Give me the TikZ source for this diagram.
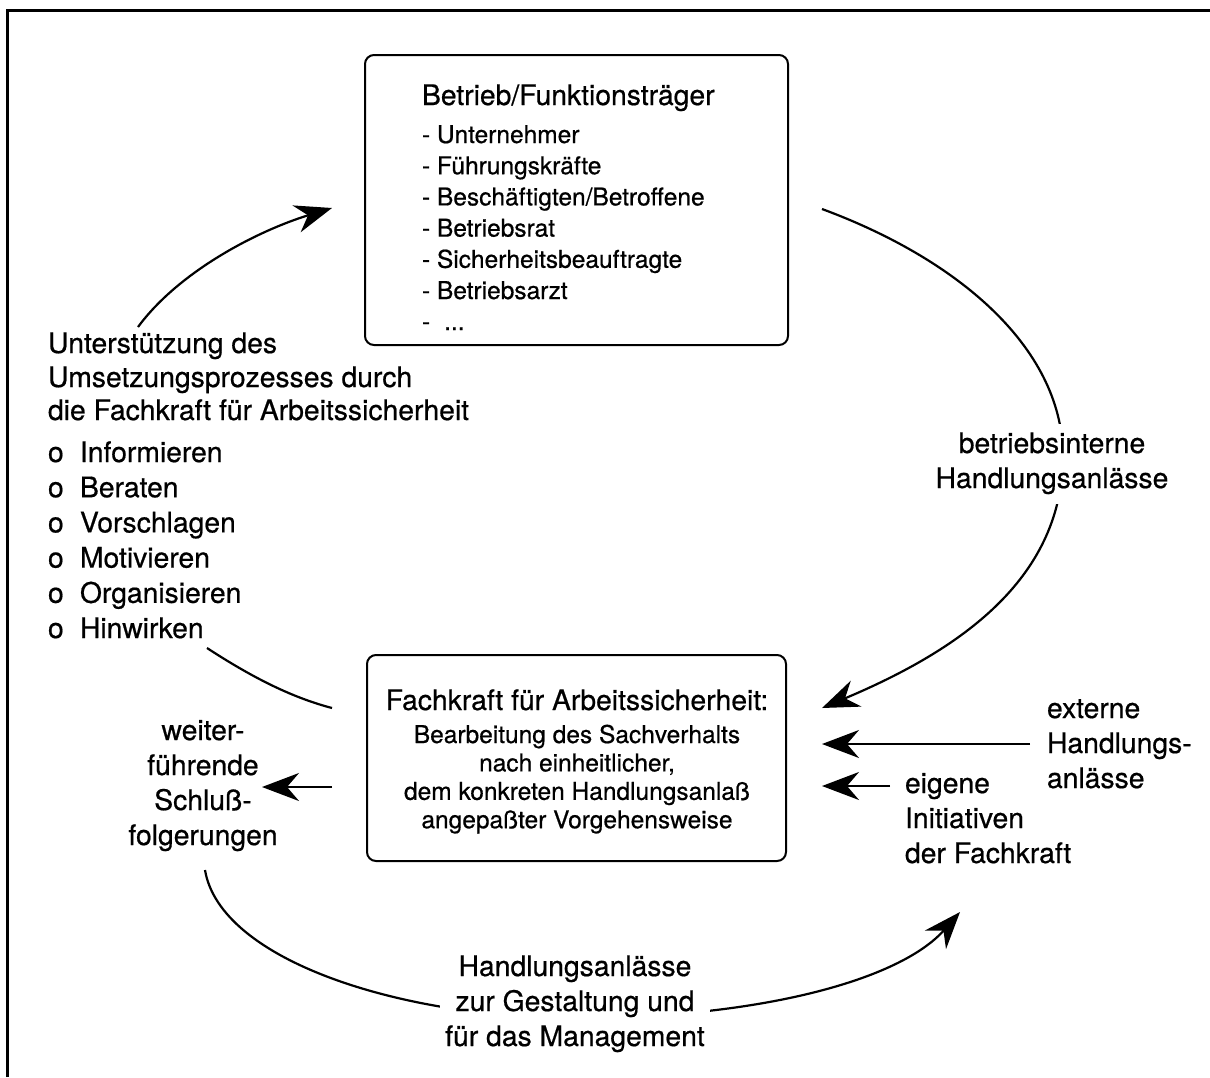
\documentclass[tikz,border=0pt]{standalone}
\usepackage{fontspec}
\setmainfont{TeX Gyre Heros}[FakeBold=0.7]
\newfontfamily\scanfont{TeX Gyre Heros}[FakeBold=0.7]
\usetikzlibrary{arrows.meta}
\newcommand{\cstack}[1]{\begin{tabular}[t]{@{}c@{}}#1\end{tabular}}
\newcommand{\lstack}[1]{\begin{tabular}[t]{@{}l@{}}#1\end{tabular}}
\begin{document}
\begin{tikzpicture}[x=1pt,y=-1pt,
  every node/.style={inner sep=0pt,outer sep=0pt},
  big/.style={font=\fontsize{28.3}{35}\selectfont\addfontfeatures{FakeBold=0.6}},
  small/.style={font=\fontsize{24.5}{31.2}\selectfont\addfontfeatures{FakeBold=0.6}},
  inner/.style={font=\fontsize{24.5}{28.4}\selectfont\addfontfeatures{FakeBold=0.6}},
  txt/.style={anchor=base west},
  ctxt/.style={anchor=base},
  box/.style={draw,line width=2pt,rounded corners=9pt},
  conn/.style={line width=2.2pt},
  arr/.style={conn,-{Stealth[length=37pt,width=28pt,inset=12pt]}},
  mask/.style={fill=white,inner sep=5pt}]
\useasboundingbox (0,0) rectangle (1210,1077);
% frame
\draw[line width=3pt] (7.5,1077) -- (7.5,10) -- (1210,10);

% top box
\node[box,minimum width=423pt,minimum height=290pt] (top) at (576.5,200) {};
\node[big,txt] (toph) at (422,105) {Betrieb/Funktionsträger};
\foreach \t [count=\i] in {Unternehmer,Führungskräfte,Beschäftigten/Betroffene,Betriebsrat,Sicherheitsbeauftragte,Betriebsarzt}
  \node[small,txt] (topl\i) at (422,{143+31.2*(\i-1)}) {- \t};
\node[small,txt] (topl7) at (422,330) {-\hspace{14pt}...};

% middle (bottom) box
\node[box,minimum width=419pt,minimum height=206pt] (mid) at (576.5,758) {};
\node[big,ctxt] (midh) at (577,710) {Fachkraft für Arbeitssicherheit:};
\node[inner,ctxt] (midb) at (577,743) {\cstack{Bearbeitung des Sachverhalts\\nach einheitlicher,\\dem konkreten Handlungsanlaß\\angepaßter Vorgehensweise}};

% left text block
\node[big,txt] (u1) at (48,353) {Unterstützung des};
\node[big,txt] (u2) at (48,387) {Umsetzungsprozesses durch};
\node[big,txt] (u3) at (48,420) {die Fachkraft für Arbeitssicherheit};
\foreach \t [count=\i] in {Informieren,Beraten,Vorschlagen,Motivieren,Organisieren,Hinwirken}
  \node[big,txt] (b\i) at (48,{462+35.2*(\i-1)}) {\makebox[32pt][l]{o}\t};

% weiterfuehrende
\node[big,ctxt] (wf) at (203,740) {\cstack{weiter-\\führende\\Schluß-\\folgerungen}};

% right texts
\node[big,txt] (ext) at (1047,718) {\lstack{externe\\Handlungs-\\anlässe}};
\node[big,txt] (eig) at (905,793) {\lstack{eigene\\Initiativen\\der Fachkraft}};

% connectors
\coordinate (ra) at (822,209);
\coordinate (rm) at (1063,460);
\coordinate (rb) at (822,708);
\draw[arr] (ra) .. controls (960,260) and (1065,350) .. (rm) .. controls (1060,580) and (960,650) .. (rb);
\node[big,ctxt,mask] (bi) at (1052,453) {\cstack{betriebsinterne\\Handlungsanlässe}};

\coordinate (la) at (138,327);
\coordinate (lb) at (332,208);
\draw[arr] (la) .. controls (180,270) and (260,230) .. (lb);

\coordinate (ha) at (207,648);
\coordinate (hb) at (332,708);
\draw[conn] (ha) .. controls (250,676) and (290,697) .. (hb);

\coordinate (wa) at (332,787);
\coordinate (wb) at (262,787);
\draw[arr] (wa) -- (wb);

\coordinate (ea) at (1030,744);
\coordinate (eb) at (822,744);
\draw[arr] (ea) -- (eb);

\coordinate (ia) at (890,786);
\coordinate (ib) at (822,786);
\draw[arr] (ia) -- (ib);

\coordinate (ba) at (205,870);
\coordinate (bm) at (576,1018);
\coordinate (bb) at (960,912);
\draw[arr] (ba) .. controls (220,960) and (400,1018) .. (bm) .. controls (760,1018) and (900,980) .. (bb);
\node[big,ctxt,mask] (hl) at (575,976) {\cstack{Handlungsanlässe\\zur Gestaltung und\\für das Management}};
\end{tikzpicture}
\end{document}
